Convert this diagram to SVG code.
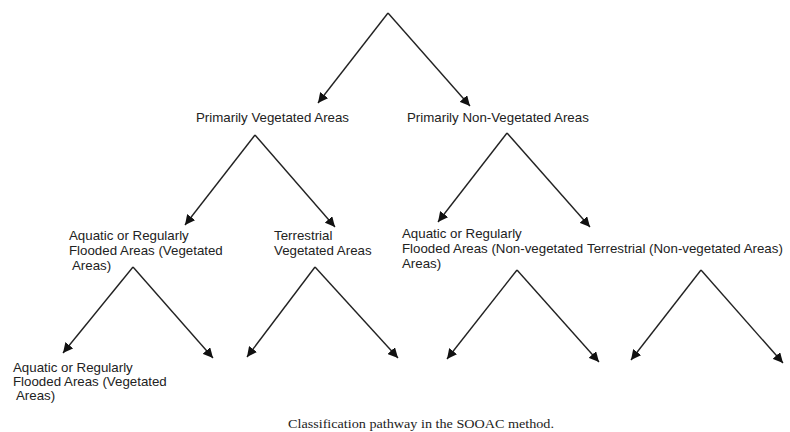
<svg xmlns="http://www.w3.org/2000/svg" width="790" height="432" viewBox="0 0 790 432">
  <defs>
    <marker id="arrow" viewBox="0 0 10 10" refX="10" refY="5" markerWidth="10" markerHeight="10" markerUnits="userSpaceOnUse" orient="auto">
      <path d="M0,0 L10,5 L0,10 z" fill="#111"/>
    </marker>
    <style>
      .lbl { font-family: "Liberation Sans", Arial, sans-serif; font-size: 13.3px; fill: #222; }
      .cap { font-family: "Liberation Serif", "Times New Roman", serif; font-size: 12.5px; fill: #222; }
      .edge { stroke: #222; stroke-width: 1.4; fill: none; marker-end: url(#arrow); }
    </style>
  </defs>
  <rect width="790" height="432" fill="#fff"/>

  <g id="connectors">
    <line class="edge" x1="388" y1="13" x2="318" y2="103"/>
    <line class="edge" x1="388" y1="13" x2="470" y2="106"/>
    <line class="edge" x1="255" y1="135" x2="185" y2="225"/>
    <line class="edge" x1="255" y1="135" x2="335" y2="227"/>
    <line class="edge" x1="507" y1="133" x2="438" y2="222"/>
    <line class="edge" x1="507" y1="133" x2="590" y2="227"/>
    <line class="edge" x1="133" y1="267" x2="63" y2="353"/>
    <line class="edge" x1="133" y1="267" x2="213" y2="358"/>
    <line class="edge" x1="315" y1="267" x2="247" y2="357"/>
    <line class="edge" x1="315" y1="267" x2="398" y2="358"/>
    <line class="edge" x1="517" y1="270" x2="447" y2="359"/>
    <line class="edge" x1="517" y1="270" x2="599" y2="362"/>
    <line class="edge" x1="701" y1="270" x2="631" y2="360"/>
    <line class="edge" x1="701" y1="270" x2="783" y2="363"/>
  </g>

  <g id="veg">
    <text class="lbl" x="196" y="122">Primarily Vegetated Areas</text>
  </g>
  <g id="nonveg">
    <text class="lbl" x="407" y="122">Primarily Non-Vegetated Areas</text>
  </g>
  <g id="veg-aquatic">
    <text class="lbl" x="69" y="240">Aquatic or Regularly</text>
    <text class="lbl" x="69" y="255">Flooded Areas (Vegetated</text>
    <text class="lbl" x="72" y="270">Areas)</text>
  </g>
  <g id="veg-terrestrial">
    <text class="lbl" x="274" y="240">Terrestrial</text>
    <text class="lbl" x="274" y="255">Vegetated Areas</text>
  </g>
  <g id="nonveg-aquatic">
    <text class="lbl" x="402" y="238">Aquatic or Regularly</text>
    <text class="lbl" x="402" y="253">Flooded Areas (Non-vegetated</text>
    <text class="lbl" x="402" y="268">Areas)</text>
  </g>
  <g id="nonveg-terrestrial">
    <text class="lbl" x="587" y="253">Terrestrial (Non-vegetated Areas)</text>
  </g>
  <g id="leaf-aquatic">
    <text class="lbl" x="13" y="372">Aquatic or Regularly</text>
    <text class="lbl" x="13" y="386">Flooded Areas (Vegetated</text>
    <text class="lbl" x="16" y="400">Areas)</text>
  </g>

  <text class="cap" x="288" y="428" textLength="266" lengthAdjust="spacingAndGlyphs">Classification pathway in the SOOAC method.</text>
</svg>
